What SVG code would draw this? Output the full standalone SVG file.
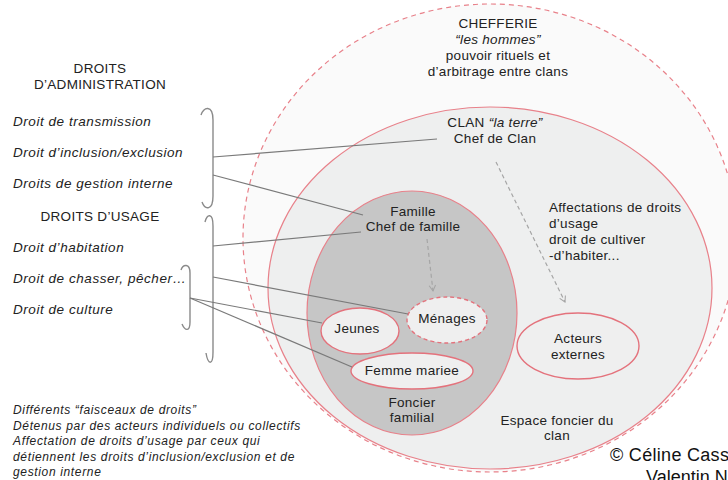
<svg xmlns="http://www.w3.org/2000/svg" width="728" height="480" viewBox="0 0 728 480">
<defs>
<style>
.t{font-family:"Liberation Sans",Arial,sans-serif;font-size:13.5px;fill:#222;letter-spacing:0.3px}
.c{text-anchor:middle}
.i{font-style:italic}
.l{letter-spacing:0.55px}
.n{font-family:"Liberation Sans",Arial,sans-serif;font-size:12px;fill:#222;font-style:italic;letter-spacing:0.65px}
.ring{stroke:#e8818a;stroke-width:1.2}
.sub{fill:#efefef;stroke:#e4727c;stroke-width:1.4}
.con{fill:none;stroke:#7a7a7a;stroke-width:1.2}
.br{fill:none;stroke:#8a8a8a;stroke-width:1.4}
.da{fill:none;stroke:#a5a5a5;stroke-width:1.2;stroke-dasharray:4,3}
</style>
<marker id="ah" viewBox="0 0 10 10" refX="8" refY="5" markerWidth="8" markerHeight="8" orient="auto" markerUnits="userSpaceOnUse">
<path d="M1,1 L8,5 L1,9" fill="none" stroke="#a5a5a5" stroke-width="1.3"/>
</marker>
</defs>
<rect width="728" height="480" fill="#fff"/>

<g id="chefferie">
<ellipse class="ring" cx="490" cy="238" rx="247" ry="234" fill="#fafafa" stroke-dasharray="5,4"/>
<text class="t c" x="498" y="28">CHEFFERIE</text>
<text class="t c i" x="498" y="44">“les hommes”</text>
<text class="t c" x="498" y="60">pouvoir rituels et</text>
<text class="t c" x="498" y="76">d’arbitrage entre clans</text>
</g>

<g id="clan">
<ellipse class="ring" cx="490" cy="288" rx="222" ry="181" fill="#eeefef"/>
<text class="t c" x="495" y="127">CLAN <tspan class="i">“la terre”</tspan></text>
<text class="t c" x="495" y="143">Chef de Clan</text>
<text class="t" x="549" y="212">Affectations de droits</text>
<text class="t" x="549" y="228">d’usage</text>
<text class="t" x="549" y="244">droit de cultiver</text>
<text class="t" x="549" y="260">-d’habiter...</text>
<text class="t c" x="557" y="425">Espace foncier du</text>
<text class="t c" x="557" y="440">clan</text>
</g>

<g id="famille">
<ellipse class="ring" cx="412" cy="313" rx="105" ry="122" fill="#c6c6c6"/>
<text class="t c" x="413" y="216">Famille</text>
<text class="t c" x="413" y="231">Chef de famille</text>
<text class="t c" x="412" y="407">Foncier</text>
<text class="t c" x="412" y="422">familial</text>
</g>

<g id="jeunes">
<ellipse class="sub" cx="360" cy="331" rx="39" ry="23"/>
<text class="t c" x="357" y="333">Jeunes</text>
</g>

<g id="menages">
<ellipse class="sub" cx="447" cy="320" rx="40" ry="23" stroke-dasharray="4,3"/>
<text class="t c" x="447" y="323">Ménages</text>
</g>

<g id="femme">
<ellipse class="sub" cx="412" cy="371" rx="61" ry="18"/>
<text class="t c" x="412" y="375">Femme mariee</text>
</g>

<g id="acteurs">
<ellipse class="sub" cx="578" cy="346" rx="61" ry="33" fill="#c6c6c6"/>
<text class="t c" x="578" y="343">Acteurs</text>
<text class="t c" x="578" y="359">externes</text>
</g>

<g id="droits">
<text class="t c" x="100" y="73">DROITS</text>
<text class="t c" x="100" y="89">D’ADMINISTRATION</text>
<text class="t i l" x="13" y="126">Droit de transmission</text>
<text class="t i l" x="13" y="157">Droit d’inclusion/exclusion</text>
<text class="t i l" x="13" y="188">Droits de gestion interne</text>
<text class="t c" x="100" y="221">DROITS D’USAGE</text>
<text class="t i l" x="13" y="252">Droit d’habitation</text>
<text class="t i l" x="13" y="283">Droit de chasser, pêcher…</text>
<text class="t i l" x="13" y="314">Droit de culture</text>
</g>

<g id="braces">
<path class="br" d="M201,115 C203,107 213,104 213,120 L213,196 C213,211 205,210 202,202"/>
<path class="br" d="M205,222 C207,214 213,212 213,226 L213,352 C213,366 208,365 206,353"/>
<path class="br" d="M181,270 C183,264 190,263 190,273 L190,322 C190,332 185,331 182,324"/>
</g>

<g id="notes">
<text class="n" x="13" y="414">Différents “faisceaux de droits”</text>
<text class="n" x="13" y="430">Détenus par des acteurs individuels ou collectifs</text>
<text class="n" x="13" y="445">Affectation de droits d’usage par ceux qui</text>
<text class="n" x="13" y="461">détiennent les droits d’inclusion/exclusion et de</text>
<text class="n" x="13" y="476">gestion interne</text>
</g>

<g id="credit">
<text x="610" y="461" font-family="Liberation Sans,Arial,sans-serif" font-size="18" fill="#111" letter-spacing="0.3">© Céline Cass</text>
<text x="646" y="483" font-family="Liberation Sans,Arial,sans-serif" font-size="18" fill="#111">Valentin N</text>
</g>

<g id="connectors">
<line class="con" x1="213" y1="157" x2="437" y2="139"/>
<line class="con" x1="213" y1="175" x2="363" y2="215"/>
<line class="con" x1="213" y1="246" x2="361" y2="232"/>
<line class="con" x1="213" y1="277" x2="408" y2="314"/>
<line class="con" x1="190" y1="298" x2="322" y2="323"/>
<line class="con" x1="190" y1="298" x2="352" y2="367"/>
<line class="da" x1="496" y1="162" x2="565" y2="302" marker-end="url(#ah)"/>
<line class="da" x1="427" y1="239" x2="433" y2="291" marker-end="url(#ah)"/>
</g>
</svg>
